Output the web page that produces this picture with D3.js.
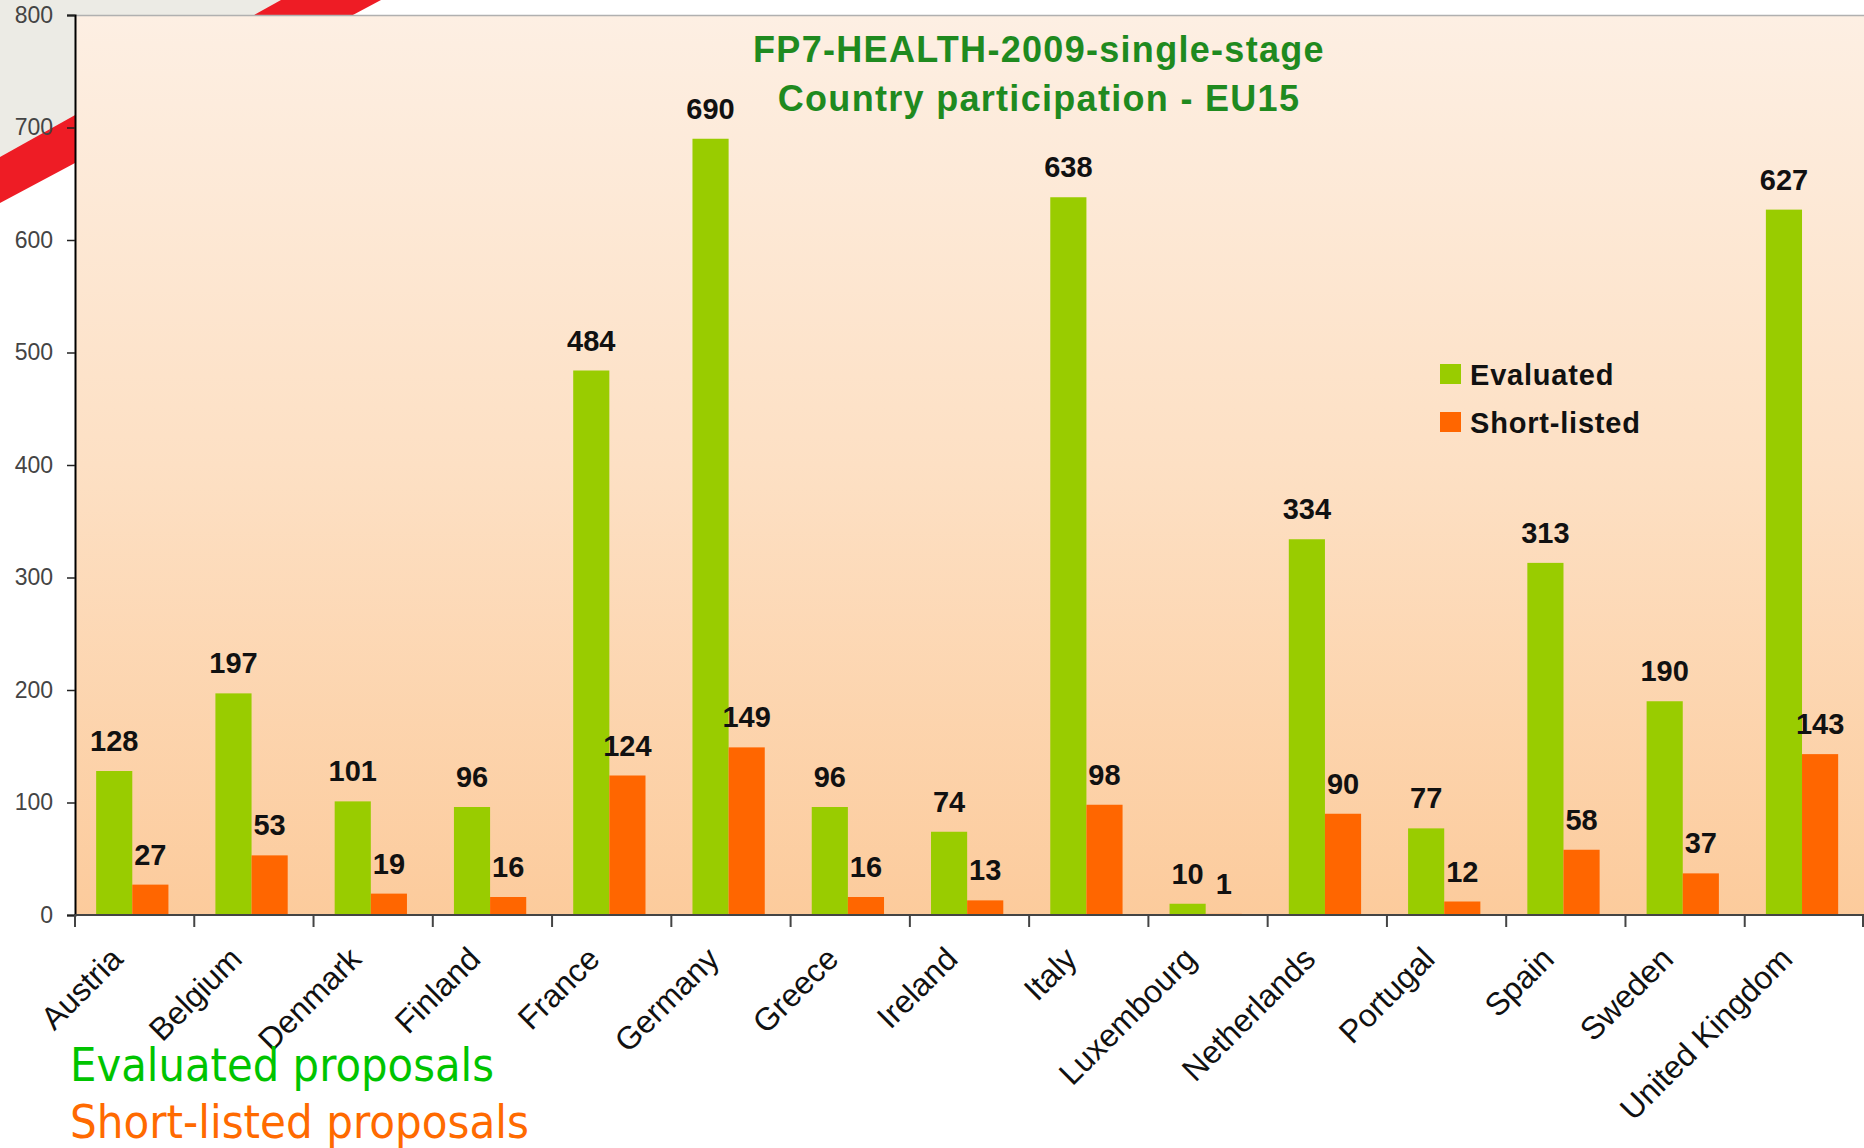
<!DOCTYPE html>
<html>
<head>
<meta charset="utf-8">
<script src="https://cdnjs.cloudflare.com/ajax/libs/d3/7.8.5/d3.min.js"></script>
<style>
  body { margin: 0; background: #fff; }
  svg { display: block; }
</style>
</head>
<body>
<svg id="chart" width="1864" height="1148"></svg>
<script>
var countries = ["Austria", "Belgium", "Denmark", "Finland", "France", "Germany", "Greece",
    "Ireland", "Italy", "Luxembourg", "Netherlands", "Portugal", "Spain", "Sweden", "United Kingdom"];
var evaluated = [128, 197, 101, 96, 484, 690, 96, 74, 638, 10, 334, 77, 313, 190, 627];
var shortListed = [27, 53, 19, 16, 124, 149, 16, 13, 98, 1, 90, 12, 58, 37, 143];
var seriesNames = ["Evaluated", "Short-listed"];
var seriesColors = ["#99cc00", "#ff6600"];
var yTicks = [0, 100, 200, 300, 400, 500, 600, 700, 800];
var titleLines = ["FP7-HEALTH-2009-single-stage", "Country participation - EU15"];
var footNotes = ["Evaluated proposals", "Short-listed proposals"];
var footColors = ["#00c400", "#ff6a00"];

var plot = { left: 75, right: 1864, top: 15, bottom: 915 };

var svg = d3.select("#chart");

// slide decoration behind the chart
svg.append("path")
    .attr("d", "M0,0L290,0L0,160Z")
    .attr("fill", "#ecebe5");
svg.append("path")
    .attr("d", "M0,157L0,203L381,0L281,0Z")
    .attr("fill", "#ee1c25");

var defs = svg.append("defs");
var grad = defs.append("linearGradient")
    .attr("id", "bg")
    .attr("x1", 0).attr("y1", 0).attr("x2", 0).attr("y2", 1);
grad.append("stop").attr("offset", "0%").attr("stop-color", "#fdefe3");
grad.append("stop").attr("offset", "50%").attr("stop-color", "#fde0c4");
grad.append("stop").attr("offset", "100%").attr("stop-color", "#fccb9c");

svg.append("rect")
    .attr("x", plot.left)
    .attr("y", plot.top)
    .attr("width", plot.right - plot.left)
    .attr("height", plot.bottom - plot.top)
    .attr("fill", "url(#bg)");
svg.append("line")
    .attr("x1", plot.left).attr("x2", plot.right)
    .attr("y1", plot.top + 0.5).attr("y2", plot.top + 0.5)
    .attr("stroke", "#b0b0b0")
    .attr("stroke-width", 1.5);

var xScale = d3.scaleBand()
    .domain(countries)
    .range([plot.left, plot.right]);
var subScale = d3.scaleBand()
    .domain(seriesNames)
    .range([0, xScale.bandwidth()])
    .paddingInner(0)
    .paddingOuter(0.65)
    .align(0.45);
var yScale = d3.scaleLinear()
    .domain([0, 800])
    .range([plot.bottom, plot.top]);

var rows = countries.map(function (c, i) {
    return { country: c, values: [evaluated[i], shortListed[i]] };
});

// bars
var groups = svg.append("g").selectAll("g")
    .data(rows)
    .enter().append("g")
    .attr("transform", function (d) { return "translate(" + xScale(d.country) + ",0)"; });

groups.selectAll("rect")
    .data(function (d) { return d.values.map(function (v, k) { return { name: seriesNames[k], value: v, k: k }; }); })
    .enter().append("rect")
    .attr("x", function (d) { return subScale(d.name); })
    .attr("y", function (d) { return yScale(d.value); })
    .attr("width", subScale.bandwidth())
    .attr("height", function (d) { return yScale(0) - yScale(d.value); })
    .attr("fill", function (d) { return seriesColors[d.k]; });

groups.selectAll("text")
    .data(function (d) { return d.values.map(function (v, k) { return { name: seriesNames[k], value: v }; }); })
    .enter().append("text")
    .attr("x", function (d) { return subScale(d.name) + subScale.bandwidth() / 2; })
    .attr("y", function (d) { return yScale(d.value) - 20; })
    .attr("text-anchor", "middle")
    .style("font-family", "'Liberation Sans', Arial, sans-serif")
    .style("font-weight", "bold")
    .style("font-size", "29px")
    .style("fill", "#111")
    .text(function (d) { return d.value; });

// y axis
var yAxis = d3.axisLeft(yScale)
    .tickValues(yTicks)
    .tickSize(8)
    .tickPadding(14);
var yG = svg.append("g")
    .attr("transform", "translate(" + plot.left + ",0)")
    .call(yAxis);
yG.select(".domain").attr("stroke", "#000").attr("stroke-width", 2);
yG.selectAll(".tick line").attr("stroke", "#222").attr("stroke-width", 1.5);
yG.selectAll(".tick text")
    .style("font-family", "'Liberation Sans', Arial, sans-serif")
    .style("font-size", "23px")
    .style("fill", "#444");

// x axis: ticks on category boundaries
var xG = svg.append("g");
xG.append("line")
    .attr("x1", plot.left).attr("x2", plot.right)
    .attr("y1", plot.bottom).attr("y2", plot.bottom)
    .attr("stroke", "#444")
    .attr("stroke-width", 2);
var bounds = countries.map(function (c) { return xScale(c); }).concat([xScale.range()[1] - 1]);
xG.selectAll("line.tick")
    .data(bounds)
    .enter().append("line")
    .attr("class", "tick")
    .attr("x1", function (d) { return d; })
    .attr("x2", function (d) { return d; })
    .attr("y1", plot.bottom)
    .attr("y2", plot.bottom + 12)
    .attr("stroke", "#444")
    .attr("stroke-width", 2);
xG.selectAll("text")
    .data(countries)
    .enter().append("text")
    .attr("transform", function (d) {
        return "translate(" + (xScale(d) + xScale.bandwidth() / 2 - 10) + "," + (plot.bottom + 46) + ") rotate(-45)";
    })
    .attr("text-anchor", "end")
    .style("font-family", "'Liberation Sans', Arial, sans-serif")
    .style("font-size", "32px")
    .style("fill", "#111")
    .text(function (d) { return d; });

// title
svg.append("g").selectAll("text")
    .data(titleLines)
    .enter().append("text")
    .attr("x", 1039)
    .attr("y", function (d, i) { return 62 + i * 49; })
    .attr("text-anchor", "middle")
    .style("font-family", "'Liberation Sans', Arial, sans-serif")
    .style("font-weight", "bold")
    .style("font-size", "36px")
    .style("letter-spacing", "1.3px")
    .style("fill", "#1f8a1f")
    .text(function (d) { return d; });

// legend
var legend = svg.append("g")
    .attr("transform", "translate(1440,364)");
var items = legend.selectAll("g")
    .data(seriesNames)
    .enter().append("g")
    .attr("transform", function (d, i) { return "translate(0," + i * 48 + ")"; });
items.append("rect")
    .attr("width", 21)
    .attr("height", 20)
    .attr("fill", function (d, i) { return seriesColors[i]; });
items.append("text")
    .attr("x", 30)
    .attr("y", 21)
    .style("font-family", "'Liberation Sans', Arial, sans-serif")
    .style("font-weight", "bold")
    .style("font-size", "29px")
    .style("letter-spacing", "0.8px")
    .style("fill", "#111")
    .text(function (d) { return d; });

// notes under the chart
svg.append("g").selectAll("text")
    .data(footNotes)
    .enter().append("text")
    .attr("x", 70)
    .attr("y", function (d, i) { return 1081 + i * 57; })
    .attr("textLength", function (d, i) { return i === 0 ? 424 : 459; })
    .attr("lengthAdjust", "spacingAndGlyphs")
    .style("font-family", "'DejaVu Sans', Verdana, sans-serif")
    .style("font-size", "46px")
    .style("fill", function (d, i) { return footColors[i]; })
    .text(function (d) { return d; });
</script>
</body>
</html>
